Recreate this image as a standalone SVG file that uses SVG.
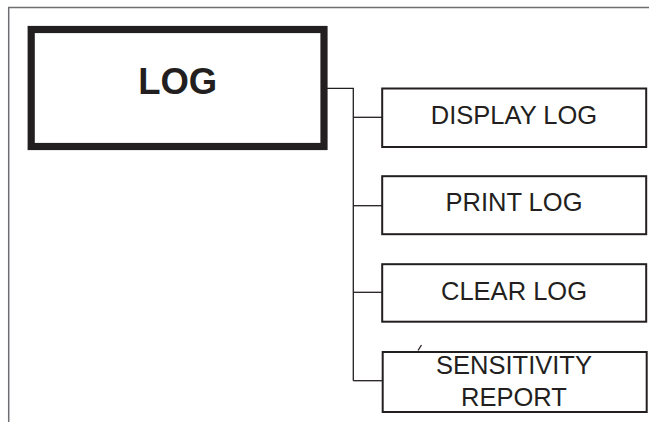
<svg xmlns="http://www.w3.org/2000/svg" width="649" height="422" viewBox="0 0 649 422">
<style>
.frame{fill:none;stroke:#6d6e71;stroke-width:1.5}
.main{fill:#fff;stroke:#231f20;stroke-width:7.2}
.box{fill:#fff;stroke:#231f20;stroke-width:2}
.conn{fill:none;stroke:#231f20;stroke-width:1.3}
.t{font-family:"Liberation Sans",Arial,sans-serif;fill:#231f20;text-anchor:middle;font-size:25.5px}
.tb{font-family:"Liberation Sans",Arial,sans-serif;fill:#231f20;text-anchor:middle;font-size:36.5px;font-weight:bold}
</style>
<rect width="649" height="422" fill="#fff"/>
<path class="frame" d="M8.7,422 V7.5 H649"/>
<g id="connectors">
<path class="conn" d="M327,88.3 H353.3 V380.7"/>
<path class="conn" d="M353.3,117.3 H382"/>
<path class="conn" d="M353.3,205.7 H382"/>
<path class="conn" d="M353.3,292.3 H382"/>
<path class="conn" d="M353.3,380.7 H382"/>
<path class="conn" d="M418,350.5 L421.5,345"/>
</g>
<g id="log">
<rect class="main" x="31.2" y="29.5" width="292.8" height="117"/>
<text class="tb" x="177.7" y="94.3">LOG</text>
</g>
<g id="display-log">
<rect class="box" x="382.2" y="88.5" width="264" height="58.5"/>
<text class="t" x="514" y="123.5">DISPLAY LOG</text>
</g>
<g id="print-log">
<rect class="box" x="382.2" y="176.2" width="264" height="58"/>
<text class="t" x="514" y="210.5">PRINT LOG</text>
</g>
<g id="clear-log">
<rect class="box" x="382.2" y="264.2" width="264" height="57.5"/>
<text class="t" x="514" y="300">CLEAR LOG</text>
</g>
<g id="sensitivity-report">
<rect class="box" x="382.7" y="352" width="264" height="60"/>
<text class="t" x="514" y="374.3">SENSITIVITY</text>
<text class="t" x="514" y="405.7">REPORT</text>
</g>
</svg>
